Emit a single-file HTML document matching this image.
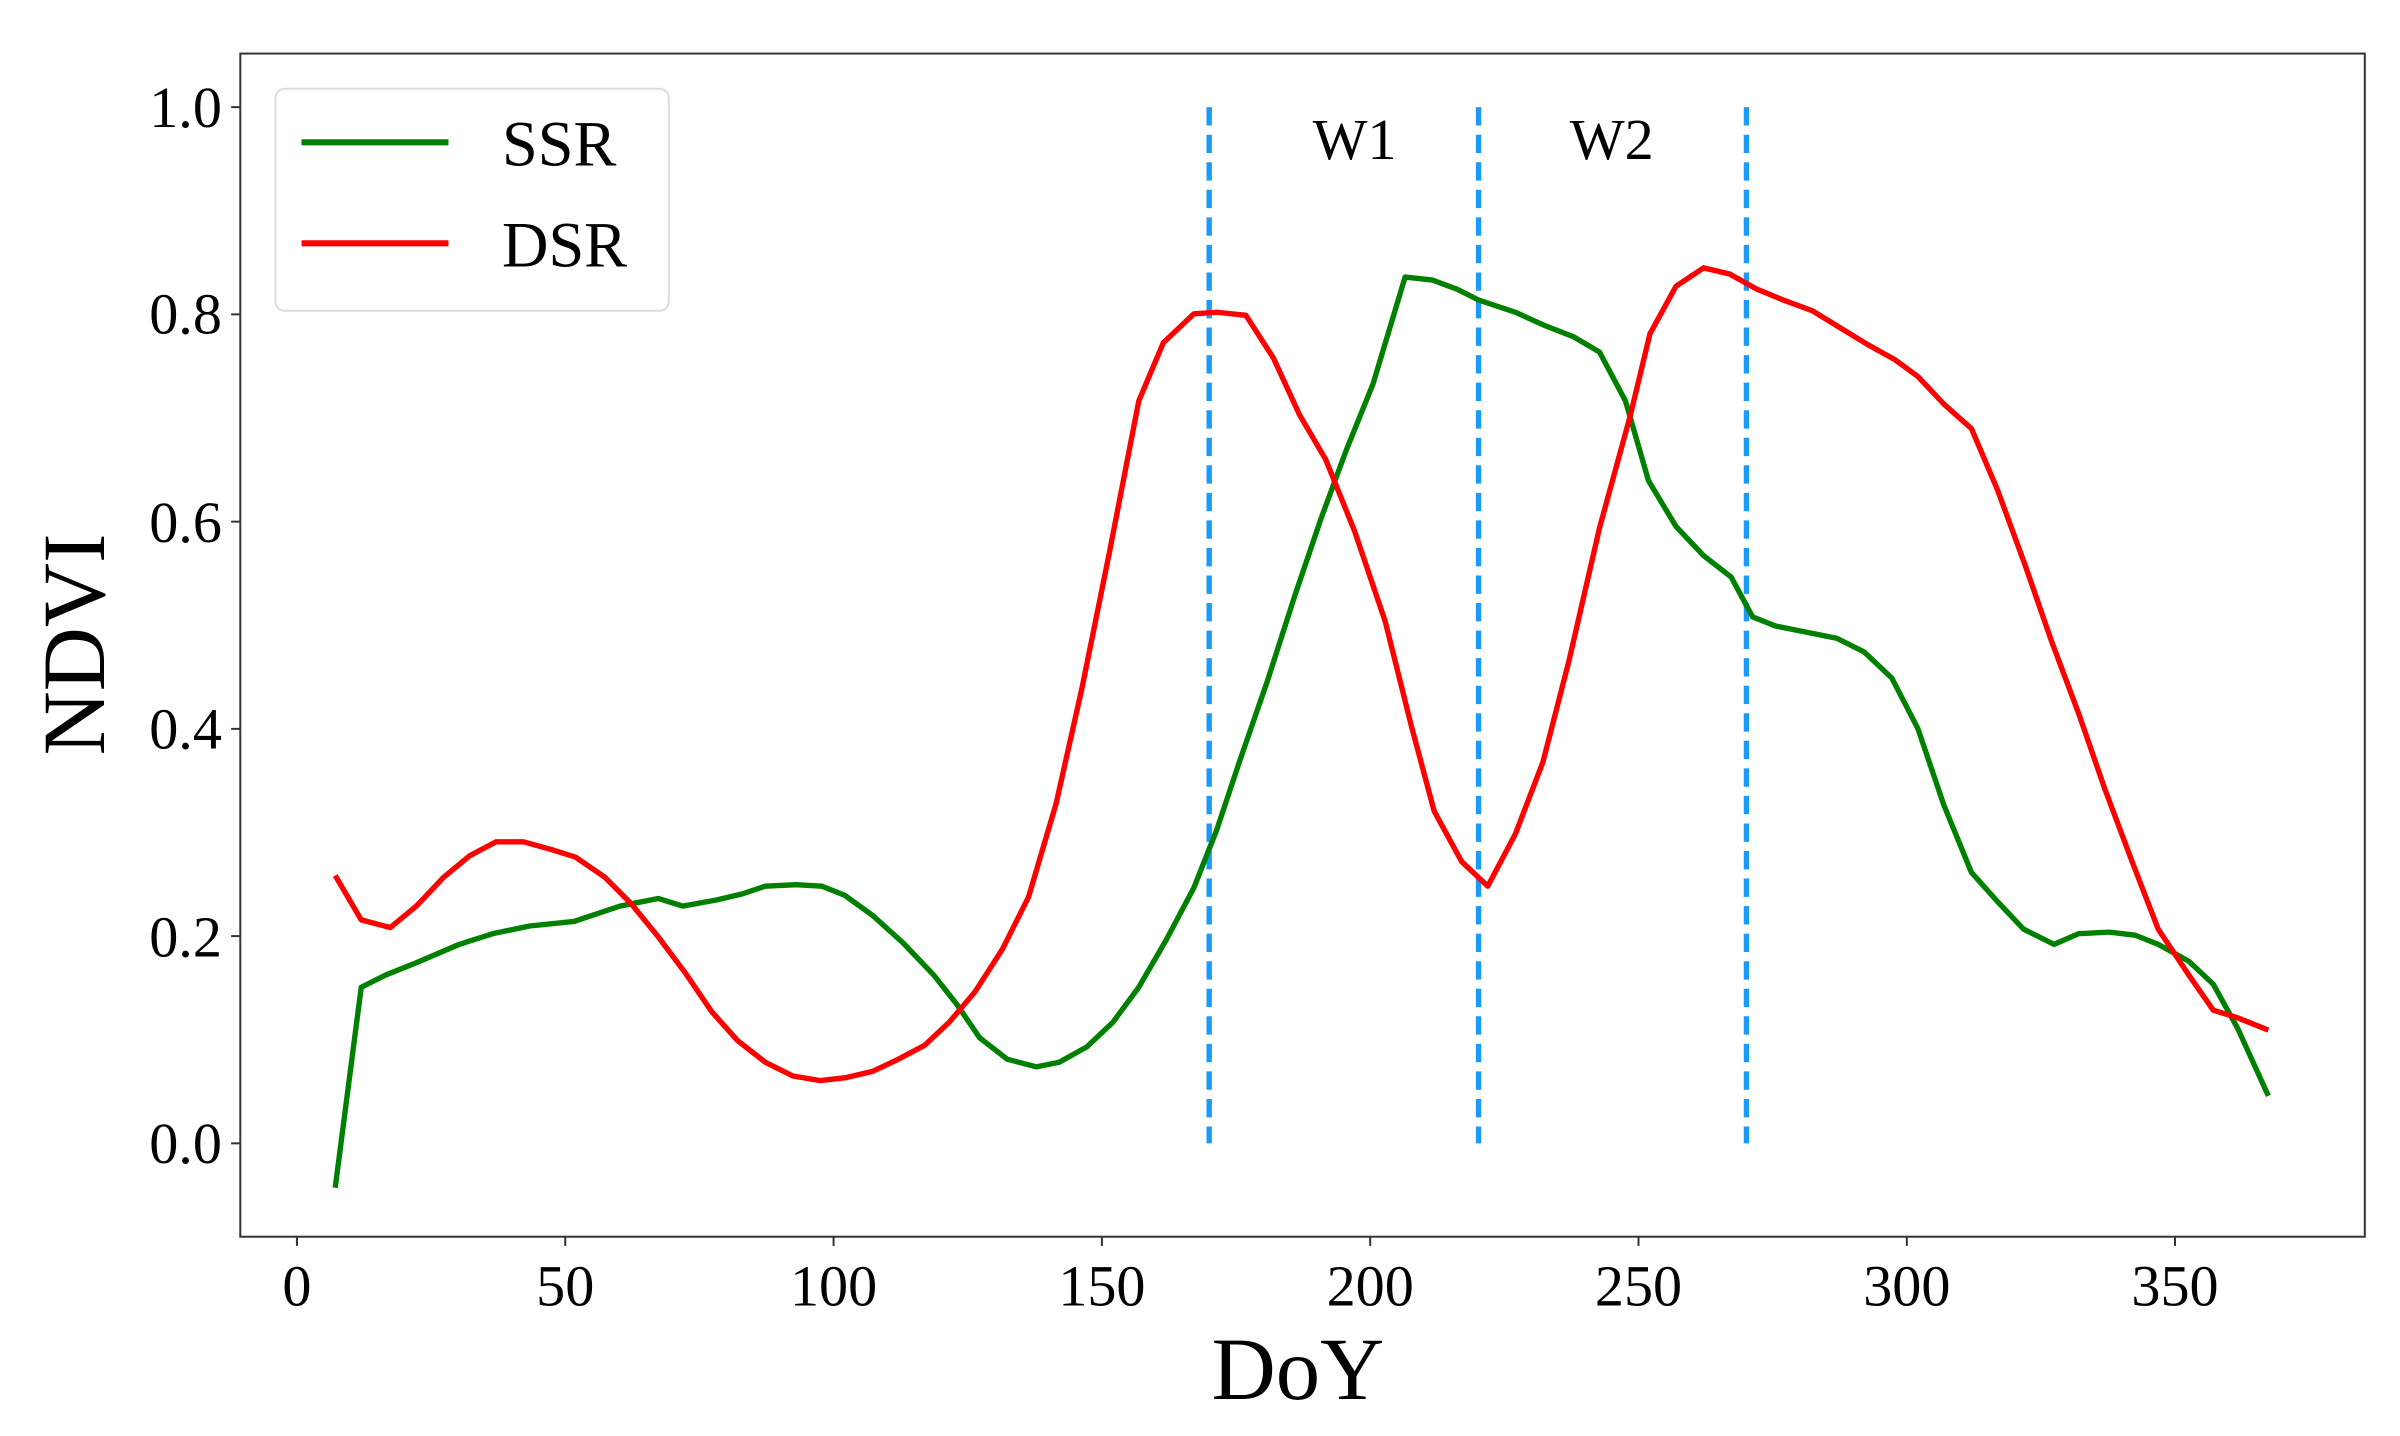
<!DOCTYPE html>
<html><head><meta charset="utf-8"><style>
html,body{margin:0;padding:0;background:#fff;}
svg{display:block;}
text{font-family:"Liberation Serif",serif;fill:#000;}
</style></head><body>
<svg width="2400" height="1436" viewBox="0 0 1568 938.2" preserveAspectRatio="none">
<rect x="0" y="0" width="1568" height="938.2" fill="#fff"/>
<!-- axes frame -->
<rect x="157" y="35" width="1388" height="773" fill="none" stroke="#333" stroke-width="1.3"/>
<!-- y ticks -->
<g stroke="#333" stroke-width="1.3">
<line x1="151" y1="70" x2="157" y2="70"/><line x1="151" y1="205.4" x2="157" y2="205.4"/>
<line x1="151" y1="340.8" x2="157" y2="340.8"/><line x1="151" y1="476.2" x2="157" y2="476.2"/>
<line x1="151" y1="611.6" x2="157" y2="611.6"/><line x1="151" y1="747" x2="157" y2="747"/>
<line x1="194" y1="808" x2="194" y2="814"/><line x1="369.3" y1="808" x2="369.3" y2="814"/>
<line x1="544.6" y1="808" x2="544.6" y2="814"/><line x1="719.9" y1="808" x2="719.9" y2="814"/>
<line x1="895.2" y1="808" x2="895.2" y2="814"/><line x1="1070.5" y1="808" x2="1070.5" y2="814"/>
<line x1="1245.8" y1="808" x2="1245.8" y2="814"/><line x1="1421" y1="808" x2="1421" y2="814"/>
</g>
<g font-size="38" text-anchor="end">
<text x="145" y="83">1.0</text><text x="145" y="218">0.8</text><text x="145" y="354">0.6</text>
<text x="145" y="489">0.4</text><text x="145" y="625">0.2</text><text x="145" y="760">0.0</text>
</g>
<g font-size="38" text-anchor="middle">
<text x="194" y="853">0</text><text x="369.3" y="853">50</text><text x="544.6" y="853">100</text>
<text x="719.9" y="853">150</text><text x="895.2" y="853">200</text><text x="1070.5" y="853">250</text>
<text x="1245.8" y="853">300</text><text x="1421" y="853">350</text>
</g>
<text x="848" y="914" font-size="58" text-anchor="middle">DoY</text>
<text transform="translate(68,421) rotate(-90)" font-size="58" text-anchor="middle">NDVI</text>
<!-- dashed lines -->
<g stroke="#1a9bfc" stroke-width="3.5" stroke-dasharray="12,6">
<line x1="790" y1="70" x2="790" y2="747"/><line x1="966" y1="70" x2="966" y2="747"/><line x1="1141" y1="70" x2="1141" y2="747"/>
</g>
<text x="885" y="104" font-size="38" text-anchor="middle">W1</text>
<text x="1053" y="104" font-size="38" text-anchor="middle">W2</text>
<polyline fill="none" stroke="#008000" stroke-width="3.5" stroke-linejoin="round" points="219,776 236,645 252,637 272,629 300,617 322,610 346,605 375,602 405,592 430,587 446,592 468,588 485,584 500,579 520,578 537,579 552,585 570,598 590,616 610,637 625,656 640,678 658,692 677,697 692,694 710,684 727,668 744,645 762,614 780,580 795,542 810,497 828,445 846,389 863,339 880,293 897,251 918,181 936,183 952,189 966,196 990,204 1010,213 1028,220 1045,230 1062,262 1077,314 1095,344 1113,363 1131,377 1145,403 1160,409 1180,413 1200,417 1218,426 1236,443 1253,476 1270,526 1288,570 1305,589 1322,607 1342,617 1358,610 1378,609 1395,611 1410,617 1430,628 1446,643 1462,672 1482,716"/>
<polyline fill="none" stroke="#ff0000" stroke-width="3.5" stroke-linejoin="round" points="219,572 236,601 255,606 272,592 290,573 307,559 324,550 342,550 360,555 376,560 395,573 412,590 430,612 448,636 465,661 482,680 500,694 518,703 536,706 553,704 570,700 587,692 604,683 620,668 637,648 655,620 672,586 690,525 707,449 725,360 744,262 760,224 780,205 795,204 814,206 832,234 849,271 866,300 885,347 905,406 922,474 937,530 955,563 972,579 990,545 1008,498 1025,432 1045,345 1065,272 1078,218 1095,187 1113,175 1130,179 1148,189 1165,196 1184,203 1202,214 1220,225 1238,235 1253,246 1270,264 1288,280 1305,320 1323,369 1340,418 1358,466 1375,515 1393,563 1410,607 1430,637 1446,660 1462,665 1482,673"/>
<!-- legend -->
<rect x="180" y="58" width="257" height="145" rx="6" fill="#fff" stroke="#ddd" stroke-width="1.3"/>
<line x1="197" y1="93" x2="293" y2="93" stroke="#008000" stroke-width="4"/>
<line x1="197" y1="159" x2="293" y2="159" stroke="#ff0000" stroke-width="4"/>
<text x="328" y="108" font-size="42">SSR</text>
<text x="328" y="174" font-size="42">DSR</text>
</svg>
</body></html>
